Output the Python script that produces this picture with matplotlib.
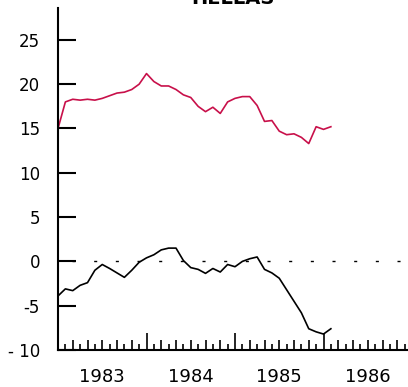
import numpy as np
import matplotlib
matplotlib.use("Agg")
import matplotlib.pyplot as plt
import matplotlib.transforms as mtransforms

# monthly values, Jan 1983 onwards
start_year = 1983
upper = [15.0, 18.0, 18.3, 18.2, 18.3, 18.2, 18.4, 18.7, 19.0, 19.1, 19.4, 20.0,
         21.2, 20.3, 19.8, 19.8, 19.4, 18.8, 18.5, 17.5, 16.9, 17.4, 16.7, 18.0,
         18.4, 18.6, 18.6, 17.6, 15.8, 15.9, 14.7, 14.3, 14.4, 14.0, 13.3, 15.2,
         14.9, 15.2]
lower = [-3.9, -3.1, -3.3, -2.7, -2.4, -1.0, -0.35, -0.8, -1.3, -1.8, -1.0, -0.1,
         0.4, 0.75, 1.3, 1.5, 1.5, 0.1, -0.7, -0.9, -1.35, -0.8, -1.2, -0.35,
         -0.6, 0.0, 0.3, 0.5, -0.9, -1.3, -1.9, -3.2, -4.5, -5.8, -7.6, -7.95,
         -8.2, -7.6]
year_labels = ["1983", "1984", "1985", "1986"]
y_ticks = [-10, -5, 0, 5, 10, 15, 20, 25]
y_labels = ["- 10", "-5", "0", "5", "10", "15", "20", "25"]
title = "HELLAS"

x = start_year + np.arange(len(upper)) / 12

fig = plt.figure(figsize=(4.08, 3.87), dpi=100)
ax = fig.add_axes([58 / 408, 37 / 387, 350 / 408, 342 / 387])

ax.plot(x, upper, color="#c8104a", lw=1.2)
ax.plot(x, lower, color="black", lw=1.2)
ax.axhline(0, xmin=14 / 350, color="black", lw=1.0, linestyle=(0, (2.2, 13.4)))

ax.set_xlim(start_year, start_year + 350 / 88.5)
ax.set_ylim(-10, 28.6)

for s in ["top", "right"]:
    ax.spines[s].set_visible(False)
for s in ["left", "bottom"]:
    ax.spines[s].set_linewidth(1.5)

# y axis
ax.set_yticks(y_ticks)
ax.set_yticklabels(y_labels)
ax.tick_params(axis="y", direction="in", length=13, width=1.5, pad=13, labelsize=12)

# x axis: monthly ticks, tall at years, alternating medium/short
months = np.arange(0, 48)
tick_x = start_year + months / 12
tick_h = np.where(months % 12 == 0, 17, np.where(months % 2 == 0, 10, 6)) / 342
ax.set_xticks([])
ax.vlines(tick_x, 0, tick_h, transform=ax.get_xaxis_transform(),
          color="black", lw=1.2, clip_on=False)

offset = mtransforms.ScaledTranslation(0, -18 / 100, fig.dpi_scale_trans)
for i, lab in enumerate(year_labels):
    ax.text(start_year + i + 0.5, 0, lab,
            transform=ax.get_xaxis_transform() + offset,
            ha="center", va="top", fontsize=13)

fig.text(0.571, 1.004, title, ha="center", va="center", fontsize=14, fontweight="bold")

fig.savefig("out.png", dpi=100)
